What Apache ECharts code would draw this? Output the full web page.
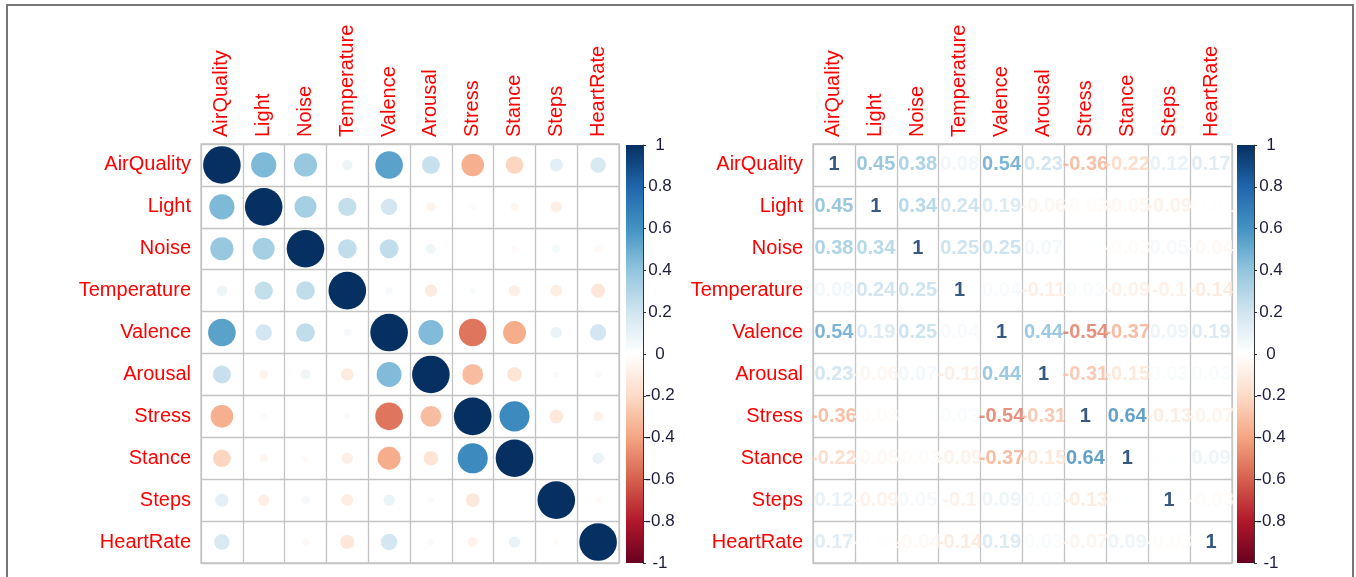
<!DOCTYPE html>
<html>
<head>
<meta charset="utf-8">
<script src="https://cdn.jsdelivr.net/npm/echarts@6/dist/echarts.min.js"></script>
<style>
html,body{margin:0;padding:0;background:#fff;}
#chart{width:1356px;height:577px;}
</style>
</head>
<body>
<div id="chart"></div>
<script>
// ---------- DATA ----------
const variables = ['AirQuality','Light','Noise','Temperature','Valence','Arousal','Stress','Stance','Steps','HeartRate'];
const rowAirQuality  = [1, 0.45, 0.38, 0.08, 0.54, 0.23, -0.36, -0.22, 0.12, 0.17];
const rowLight       = [0.45, 1, 0.34, 0.24, 0.19, -0.06, -0.03, -0.05, -0.09, -0.01];
const rowNoise       = [0.38, 0.34, 1, 0.25, 0.25, 0.07, 0.01, -0.03, 0.05, -0.04];
const rowTemperature = [0.08, 0.24, 0.25, 1, 0.04, -0.11, 0.03, -0.09, -0.1, -0.14];
const rowValence     = [0.54, 0.19, 0.25, 0.04, 1, 0.44, -0.54, -0.37, 0.09, 0.19];
const rowArousal     = [0.23, -0.06, 0.07, -0.11, 0.44, 1, -0.31, -0.15, 0.03, 0.03];
const rowStress      = [-0.36, -0.03, 0.01, 0.03, -0.54, -0.31, 1, 0.64, -0.13, -0.07];
const rowStance      = [-0.22, -0.05, -0.03, -0.09, -0.37, -0.15, 0.64, 1, 0.01, 0.09];
const rowSteps       = [0.12, -0.09, 0.05, -0.1, 0.09, 0.03, -0.13, 0.01, 1, -0.03];
const rowHeartRate   = [0.17, -0.01, -0.04, -0.14, 0.19, 0.03, -0.07, 0.09, -0.03, 1];
const colorbarTicks  = [-1, -0.8, -0.6, -0.4, -0.2, 0, 0.2, 0.4, 0.6, 0.8, 1];
const rdbuColors = ['#67001F','#B2182B','#D6604D','#F4A582','#FDDBC7','#FFFFFF','#D1E5F0','#92C5DE','#4393C3','#2166AC','#053061'];

const matrix = [rowAirQuality,rowLight,rowNoise,rowTemperature,rowValence,rowArousal,rowStress,rowStance,rowSteps,rowHeartRate];

// ---------- helpers ----------
function hexToRgb(h){return [parseInt(h.slice(1,3),16),parseInt(h.slice(3,5),16),parseInt(h.slice(5,7),16)];}
function colorFor(v){
  const t = (v + 1) / 2 * (rdbuColors.length - 1);
  const i = Math.max(0, Math.min(rdbuColors.length - 2, Math.floor(t)));
  const f = t - i;
  const a = hexToRgb(rdbuColors[i]), b = hexToRgb(rdbuColors[i+1]);
  const c = a.map((x,k)=>Math.round(x + (b[k]-x)*f));
  return 'rgb(' + c.join(',') + ')';
}

const circleData = [];
const numberData = [];
matrix.forEach((row, yi) => {
  row.forEach((r, xi) => {
    circleData.push({value:[xi, yi, r], itemStyle:{color: colorFor(r), opacity:1}});
    numberData.push({value:[xi, yi, r], label:{color: colorFor(r)}});
  });
});

const gradStops = rdbuColors.map((c, i) => ({offset: 1 - i/(rdbuColors.length-1), color: c}));

const labelFont = 'Liberation Sans, Arial, sans-serif';
const gridColor = '#c4c4c4';

function catX(gi){
  return {
    type:'category', data: variables, gridIndex: gi, position:'top',
    axisLine:{show:false}, axisTick:{show:false},
    axisLabel:{rotate:-90, interval:0, color:'#ff0000', fontSize:20, fontFamily:labelFont, margin:7},
    splitLine:{show:true, interval:0, lineStyle:{color:gridColor, width:1.3}}
  };
}
function catY(gi){
  return {
    type:'category', data: variables, gridIndex: gi, inverse:true,
    axisLine:{show:false}, axisTick:{show:false},
    axisLabel:{interval:0, color:'#ff0000', fontSize:20, fontFamily:labelFont, margin:10},
    splitLine:{show:true, interval:0, lineStyle:{color:gridColor, width:1.3}}
  };
}
function cbX(gi){
  return {type:'category', data:['c'], gridIndex:gi, show:false};
}
function cbY(gi){
  return {
    type:'value', gridIndex:gi, position:'right',
    min: colorbarTicks[0], max: colorbarTicks[colorbarTicks.length-1],
    interval: colorbarTicks[1]-colorbarTicks[0],
    axisLine:{show:true, lineStyle:{color:'#333', width:1}},
    axisTick:{show:true, length:3, lineStyle:{color:'#333'}},
    axisLabel:{color:'#1c1c3c', fontSize:17, fontFamily:labelFont, align:'center', margin:17,
      formatter: function(v){ return String(Math.round(v*10)/10); }},
    splitLine:{show:false}
  };
}

function colorbarSeries(xi, yi){
  return {
    type:'custom', xAxisIndex:xi, yAxisIndex:yi, silent:true,
    data:[[0,0]],
    renderItem: function(params, api){
      const top = api.coord([0, colorbarTicks[colorbarTicks.length-1]]);
      const bot = api.coord([0, colorbarTicks[0]]);
      const w = api.size([1,0])[0];
      return {
        type:'rect',
        shape:{x: top[0]-w/2, y: top[1], width: w, height: bot[1]-top[1]},
        style:{fill: new echarts.graphic.LinearGradient(0,0,0,1, gradStops)}
      };
    }
  };
}

const chart = echarts.init(document.getElementById('chart'), null, {renderer:'canvas'});
chart.setOption({
  animation:false,
  backgroundColor:'#ffffff',
  grid:[
    {left:201, top:144, width:418, height:419, show:true, borderColor:gridColor, borderWidth:1.3, backgroundColor:'transparent'},
    {left:626, top:145, width:17, height:418},
    {left:813, top:144, width:419, height:419, show:true, borderColor:gridColor, borderWidth:1.3, backgroundColor:'transparent'},
    {left:1237, top:145, width:17, height:418}
  ],
  xAxis:[catX(0), cbX(1), catX(2), cbX(3)],
  yAxis:[catY(0), cbY(1), catY(2), cbY(3)],
  series:[
    {
      type:'scatter', xAxisIndex:0, yAxisIndex:0, silent:true,
      symbol:'circle',
      symbolSize: function(val){ return 37.6 * Math.sqrt(Math.abs(val[2])); },
      itemStyle:{opacity:1},
      data: circleData
    },
    colorbarSeries(1,1),
    {
      type:'scatter', xAxisIndex:2, yAxisIndex:2, silent:true,
      symbolSize:1, itemStyle:{color:'rgba(0,0,0,0)'},
      label:{show:true, position:'inside', fontSize:20, fontWeight:'bold', fontFamily:labelFont,
        formatter: function(p){ return String(p.value[2]); }},
      data: numberData
    },
    colorbarSeries(3,3)
  ],
  graphic:[
    {type:'rect', shape:{x:7, y:5, width:1346, height:590}, style:{fill:'none', stroke:'#777', lineWidth:2}, silent:true}
  ]
});
</script>
</body>
</html>
